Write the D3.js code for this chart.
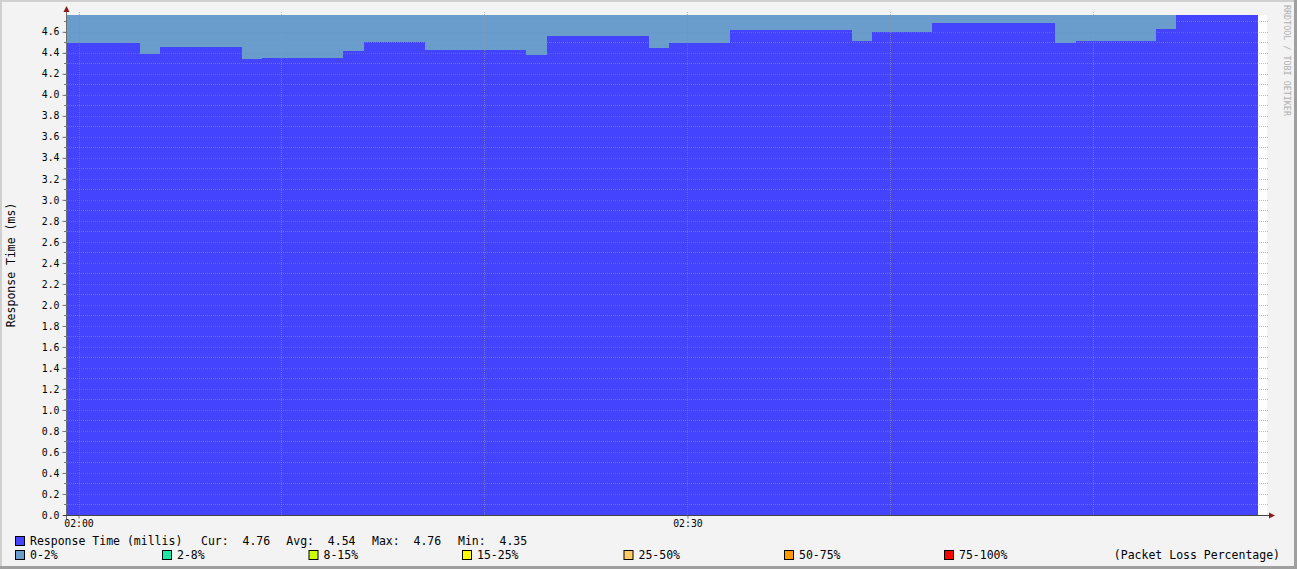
<!DOCTYPE html>
<html lang="en">
<head>
  <meta charset="UTF-8">
  <script src="https://cdn.jsdelivr.net/npm/d3@7"></script>
  <title>Response Time</title>
  <style>
    body { margin: 0; background: #f3f3f3; }
    text { font-family: "DejaVu Sans Mono", monospace; }
  </style>
</head>
<body>
  <svg></svg>
</body>
<script>
const width = 1297;
const height = 569;
const plot = { left: 67, right: 1267, top: 15, bottom: 515 };

// step starts (hh:mm:ss) and median response time (ms)
const stepTimes = ['01:59:26', '02:03:02', '02:04:01', '02:08:03', '02:09:02', '02:13:01', '02:14:03',
  '02:17:04', '02:22:02', '02:23:04', '02:28:05', '02:29:04', '02:32:05', '02:38:05', '02:39:04',
  '02:42:04', '02:48:05', '02:49:07', '02:53:06', '02:54:05'];
const stepValues = [4.494, 4.39, 4.455, 4.341, 4.351, 4.417, 4.503, 4.427, 4.379, 4.56, 4.446,
  4.494, 4.617, 4.513, 4.598, 4.684, 4.494, 4.513, 4.627, 4.76];
const lastTime = '02:58:07';
const timeDomain = ['01:59:26', '02:58:33'];
const yMax = 4.76;

const statLabels = ['Cur:', 'Avg:', 'Max:', 'Min:'];
const statValues = ['4.76', '4.54', '4.76', '4.35'];
const lossLabels = ['0-2%', '2-8%', '8-15%', '15-25%', '25-50%', '50-75%', '75-100%'];
const lossColors = ['#6b9dcc', '#1be8a8', '#ccff00', '#ffff00', '#ffcc66', '#ff9900', '#ff0000'];

const parse = d3.utcParse('%H:%M:%S');
const series = stepTimes.map((t, i) => ({ time: parse(t), value: stepValues[i] }));
series.push({ time: parse(lastTime), value: stepValues[stepValues.length - 1] });

const svg = d3.select('svg').attr('width', width).attr('height', height);

// frame
svg.append('rect').attr('width', width).attr('height', height).attr('fill', '#f3f3f3');
svg.append('path').attr('d', `M1,${height} V1 H${width}`).attr('stroke', '#cfcfcf').attr('stroke-width', 2).attr('fill', 'none');
svg.append('path').attr('d', `M0,${height - 1.5} H${width - 1.5} V0`).attr('stroke', '#9f9f9f').attr('stroke-width', 3).attr('fill', 'none');

const xScale = d3.scaleUtc().domain(timeDomain.map(parse)).range([plot.left, plot.right]);
const yScale = d3.scaleLinear().domain([0, yMax]).range([plot.bottom, plot.top]);

// plot background
svg.append('rect').attr('x', plot.left).attr('y', plot.top)
  .attr('width', plot.right - plot.left).attr('height', plot.bottom - plot.top).attr('fill', '#ffffff');

// loss band (fills up to the max) and median area
const maxVal = d3.max(series, d => d.value);
svg.append('path').datum(series)
  .attr('fill', lossColors[0])
  .attr('d', d3.area().curve(d3.curveStepAfter)
    .x(d => Math.round(xScale(d.time))).y0(yScale(0)).y1(Math.round(yScale(maxVal))));
svg.append('path').datum(series)
  .attr('fill', '#4444ff')
  .attr('d', d3.area().curve(d3.curveStepAfter)
    .x(d => Math.round(xScale(d.time))).y0(yScale(0)).y1(d => Math.round(yScale(d.value))));

// grid
const grid = svg.append('g').attr('fill', 'none').attr('stroke-width', 1)
  .attr('stroke-dasharray', '1,1').attr('shape-rendering', 'crispEdges');
const minorY = yScale.ticks(48);
const majorY = yScale.ticks(24);
const isMajor = v => majorY.some(m => Math.abs(m - v) < 1e-9);
const gridGrey = 'rgba(150,150,160,0.6)';
const gridRed = 'rgba(222,100,100,0.55)';
grid.selectAll('line.ymin').data(minorY.filter(v => !isMajor(v)))
  .join('line').attr('class', 'ymin')
  .attr('x1', plot.left).attr('x2', plot.right + 1)
  .attr('y1', d => Math.round(yScale(d)) + 0.5).attr('y2', d => Math.round(yScale(d)) + 0.5)
  .attr('stroke', gridGrey);
grid.selectAll('line.ymaj').data(majorY.filter(v => v > 0))
  .join('line').attr('class', 'ymaj')
  .attr('x1', plot.left).attr('x2', plot.right + 1)
  .attr('y1', d => Math.round(yScale(d)) + 0.5).attr('y2', d => Math.round(yScale(d)) + 0.5)
  .attr('stroke', gridRed);

const minorX = xScale.ticks(d3.utcMinute.every(10));
grid.selectAll('line.xgrid').data(minorX)
  .join('line').attr('class', 'xgrid')
  .attr('x1', d => Math.round(xScale(d)) + 0.5).attr('x2', d => Math.round(xScale(d)) + 0.5)
  .attr('y1', plot.top - 3).attr('y2', plot.bottom)
  .attr('stroke', d => d.getUTCMinutes() % 30 === 0 ? gridRed : gridGrey);

// y axis
const yAxis = d3.axisLeft(yScale).tickValues(majorY).tickFormat(d3.format('.1f')).tickSize(4).tickPadding(3);
const yAxisLayer = svg.append('g').attr('transform', `translate(${plot.left - 0.5},0)`).call(yAxis);
yAxisLayer.select('.domain').remove();
yAxisLayer.selectAll('text').attr('font-size', '9.8px').attr('fill', '#000').attr('font-family', 'DejaVu Sans Mono');
yAxisLayer.selectAll('line').attr('stroke', '#777');
svg.append('g').selectAll('line').data(minorY)
  .join('line')
  .attr('x1', plot.left - 3).attr('x2', plot.left)
  .attr('y1', d => Math.round(yScale(d)) + 0.5).attr('y2', d => Math.round(yScale(d)) + 0.5)
  .attr('stroke', '#777');

// x axis
const xAxis = d3.axisBottom(xScale).ticks(d3.utcMinute.every(30)).tickFormat(d3.utcFormat('%H:%M')).tickSize(3).tickPadding(2);
const xAxisLayer = svg.append('g').attr('transform', `translate(0,${plot.bottom + 0.5})`).call(xAxis);
xAxisLayer.select('.domain').remove();
xAxisLayer.selectAll('text').attr('font-size', '9.8px').attr('fill', '#000').attr('font-family', 'DejaVu Sans Mono');
xAxisLayer.selectAll('line').attr('stroke', '#777');

// axis lines with arrows
svg.append('line').attr('x1', plot.left - 0.5).attr('x2', plot.left - 0.5)
  .attr('y1', plot.bottom + 4).attr('y2', plot.top - 6).attr('stroke', '#6e6e6e');
svg.append('line').attr('x1', plot.left - 4).attr('x2', plot.right + 4)
  .attr('y1', plot.bottom + 0.5).attr('y2', plot.bottom + 0.5).attr('stroke', '#444');
svg.append('path').attr('d', `M${plot.left - 3.5},${plot.top - 3} L${plot.left - 0.5},${plot.top - 9} L${plot.left + 2.5},${plot.top - 3} Z`).attr('fill', '#8b1a1a');
svg.append('path').attr('d', `M${plot.right + 2},${plot.bottom - 2.5} L${plot.right + 8},${plot.bottom + 0.5} L${plot.right + 2},${plot.bottom + 3.5} Z`).attr('fill', '#8b1a1a');

// y title
svg.append('text').attr('transform', 'translate(15,265) rotate(-90)')
  .attr('text-anchor', 'middle').attr('font-size', '11.5px').attr('fill', '#000')
  .text('Response Time (ms)');

// watermark
svg.append('text').attr('transform', 'translate(1284,5) rotate(90)')
  .attr('font-size', '8.4px').attr('fill', '#b0b0b0')
  .text('RRDTOOL / TOBI OETIKER');

// legend row 1
const legend = svg.append('g').attr('font-size', '11.5px').attr('fill', '#000');
legend.append('rect').attr('x', 15.5).attr('y', 536.5).attr('width', 9).attr('height', 9)
  .attr('fill', '#4444ff').attr('stroke', '#000');
legend.append('text').attr('x', 30).attr('y', 545).text('Response Time (millis)');
const statX = [201, 286.3, 372, 458];
statLabels.forEach((l, i) => {
  legend.append('text').attr('x', statX[i]).attr('y', 545).text(l);
  legend.append('text').attr('x', statX[i] + 41.5).attr('y', 545).text(statValues[i]);
});

// legend row 2
const lossX = [15, 162, 308.5, 462, 623.5, 784, 944];
lossLabels.forEach((l, i) => {
  legend.append('rect').attr('x', lossX[i] + 0.5).attr('y', 550.5).attr('width', 9).attr('height', 9)
    .attr('fill', lossColors[i]).attr('stroke', '#000');
  legend.append('text').attr('x', lossX[i] + 15).attr('y', 559).text(l);
});
legend.append('text').attr('x', 1280).attr('y', 559).attr('text-anchor', 'end').text('(Packet Loss Percentage)');
</script>
</html>
